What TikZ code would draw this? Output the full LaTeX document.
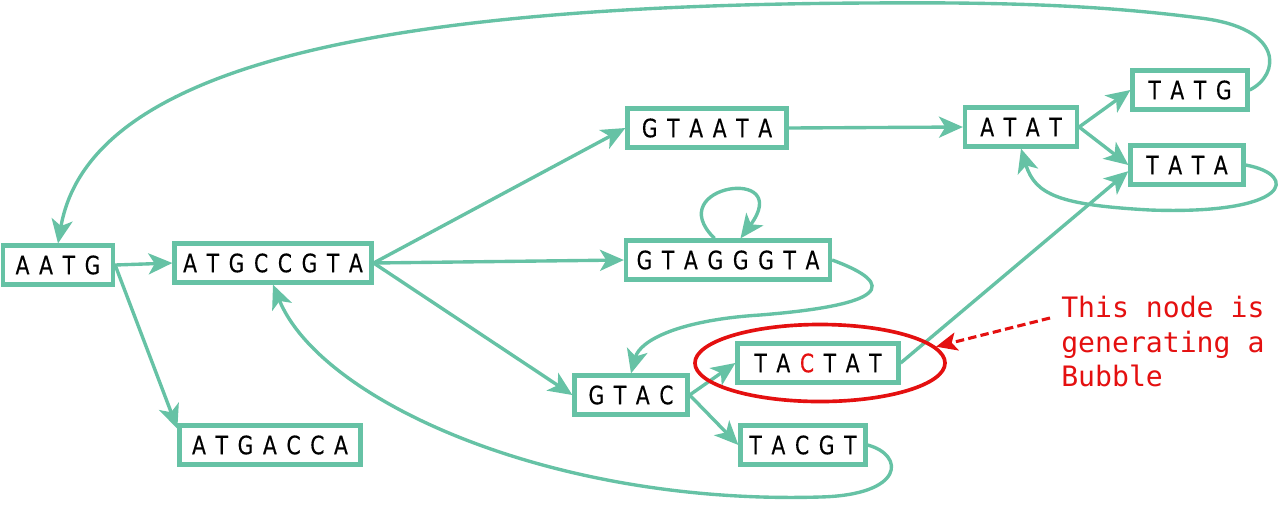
\documentclass[tikz,border=0pt]{standalone}
\usepackage{fontspec}
\usepackage{tikz}
\usetikzlibrary{arrows.meta}
\usetikzlibrary{shapes.geometric}
\newfontfamily\seqfont[FakeStretch = 0.8, FakeBold = 0.4, WordSpace = 1.5]{DejaVu Sans}
\newfontfamily\notefont{DejaVu Sans Mono}
\definecolor{mteal}{RGB}{102, 194, 165}
\definecolor{mred}{RGB}{228, 16, 16}
\tikzset{seqbox/.style = {draw = mteal, line width = 3pt, minimum height = 0.975cm,
                          inner sep = 0pt, font = \seqfont\fontsize{18}{21}\selectfont},
         link/.style = {draw = mteal, line width = 2.4pt,
                        -{Stealth[length = 17pt, width = 15pt, inset = 4.5pt]}}}

\begin{document}
\begin{tikzpicture}[x = 0.025cm, y = -0.025cm]
      \useasboundingbox (0, 0) rectangle (1280, 509);

      \node [seqbox, minimum width = 2.75cm] (aatg) at (58, 265) {A A T G};
      \node [seqbox, minimum width = 4.925cm] (atgccgta) at (273, 263) {A T G C C G T A};
      \node [seqbox, minimum width = 4.525cm] (atgacca) at (270, 445) {A T G A C C A};
      \node [seqbox, minimum width = 3.975cm] (gtaata) at (707, 128) {G T A A T A};
      \node [seqbox, minimum width = 5.1cm] (gtaggg) at (728, 260) {G T A G G G T A};
      \node [seqbox, minimum width = 2.825cm] (gtac) at (631, 395) {G T A C};
      \node [seqbox, minimum width = 4.025cm] (tactat) at (818, 363) {T A {\color{mred}C} T A T};
      \node [seqbox, minimum width = 3.125cm] (tacgt) at (803, 445) {T A C G T};
      \node [seqbox, minimum width = 2.8cm] (atat) at (1021, 127) {A T A T};
      \node [seqbox, minimum width = 2.875cm] (tatg) at (1190, 90) {T A T G};
      \node [seqbox, minimum width = 2.825cm] (tata) at (1187, 165) {T A T A};

      \draw [link] (aatg.east) -- (atgccgta.west);
      \draw [link] (aatg.east) -- (atgacca.170);
      \draw [link] (atgccgta.east) -- (gtaata.west);
      \draw [link] (atgccgta.east) -- (gtaggg.west);
      \draw [link] (atgccgta.east) -- (gtac.west);
      \draw [link] (gtaata.east) -- (atat.west);
      \draw [link] (atat.east) -- (tatg.west);
      \draw [link] (atat.east) -- (tata.west);
      \draw [link] (gtac.east) -- (tactat.west);
      \draw [link] (gtac.east) -- (tacgt.west);
      \draw [link] (tactat.east) -- (tata.186);

      \draw [link] (gtaggg.122) .. controls (660, 185) and (795, 165) .. (gtaggg.60);
      \draw [link] (gtaggg.east) .. controls (900, 285) and (885, 305) .. (760, 315)
                   .. controls (680, 320) and (640, 340) .. (gtac.north);
      \draw [link] (tata.east) .. controls (1300, 175) and (1290, 215) .. (1150, 210)
                   .. controls (1060, 205) and (1035, 195) .. (atat.south);
      \draw [link] (tacgt.east) .. controls (905, 455) and (905, 495) .. (820, 497)
                   .. controls (550, 505) and (320, 400) .. (atgccgta.south);
      \draw [link] (tatg.east) .. controls (1280, 75) and (1285, 28) .. (1200, 18)
                   .. controls (1100, 5) and (1000, 2) .. (870, 3)
                   .. controls (400, 5) and (90, 60) .. (aatg.north);

      \node [ellipse, draw = mred, line width = 2.6pt, minimum width = 6.25cm,
             minimum height = 1.925cm] (bubble) at (820, 363) {};
      \node [anchor = north west, align = left, inner sep = 0pt, text = mred,
             font = \notefont\fontsize{20}{24.5}\selectfont] (note) at (1061, 296)
            {This node is\\generating a\\Bubble};
      \coordinate (pointer) at (1050, 318);
      \draw [mred, line width = 2.2pt, dash pattern = on 6pt off 3pt,
             -{Stealth[length = 15pt, width = 13pt, inset = 3.5pt]}] (pointer) -- (bubble.8);
    \end{tikzpicture}
\end{document}
